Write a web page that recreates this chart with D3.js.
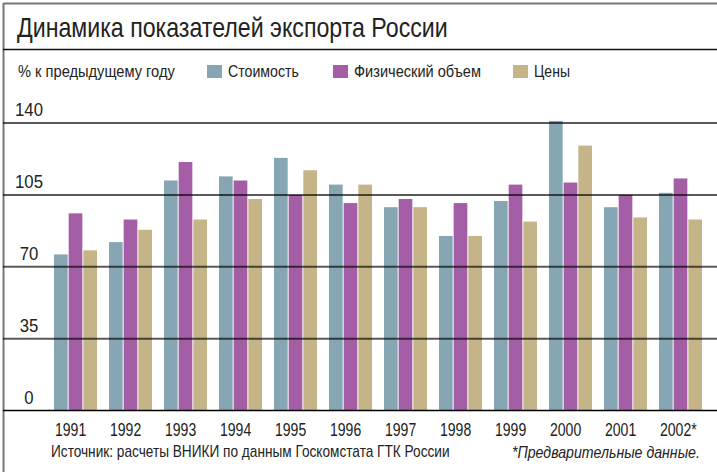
<!DOCTYPE html>
<html>
    <head>
        <title>Динамика показателей экспорта России</title>
        <meta charset="UTF-8">
        <script type="text/javascript" src="https://cdn.jsdelivr.net/npm/d3@7"></script>
        <style>
            body { margin: 0; background: #fff; }
            text { font-family: "Liberation Sans", Arial, sans-serif; fill: #222; }
        </style>
    </head>
    <body>
        <script type="text/javascript">
            var w = 717, h = 472;

            var years = ["1991", "1992", "1993", "1994", "1995", "1996", "1997", "1998", "1999", "2000", "2001", "2002"];
            var yearLabels = ["1991", "1992", "1993", "1994", "1995", "1996", "1997", "1998", "1999", "2000", "2001", "2002*"];
            var seriesNames = ["Стоимость", "Физический объем", "Цены"];
            var stoimost = [76, 82, 112, 114, 123, 110, 99, 85, 102, 141, 99, 106];
            var fizObem = [96, 93, 121, 112, 105, 101, 103, 101, 110, 111, 105, 113];
            var ceny = [78, 88, 93, 103, 117, 110, 99, 85, 92, 129, 94, 93];
            var yTicks = [0, 35, 70, 105, 140];
            var colors = ["#85a6b2", "#a45ea5", "#c4b488"];

            var rows = years.map(function(y, i) {
                return {year: y, label: yearLabels[i], values: [stoimost[i], fizObem[i], ceny[i]]};
            });

            var svg = d3.select("body").append("svg")
                    .attr("width", w)
                    .attr("height", h);

            // the original uses a condensed face, so squeeze the regular one
            // sideways: either to a given width or by a given ratio
            function narrow(sel, x, y, width, ratio) {
                sel.each(function(d, i) {
                    var len = this.getComputedTextLength();
                    var s = ratio || (typeof width === "function" ? width(d, i) : width) / len;
                    var px = typeof x === "function" ? x(d, i) : x;
                    var py = typeof y === "function" ? y(d, i) : y;
                    d3.select(this).attr("transform", "translate(" + px + "," + py + ") scale(" + s + ",1)");
                });
            }

            // frame
            svg.append("line").attr("x1", 3.5).attr("y1", 3.5).attr("x2", w).attr("y2", 3.5)
                    .style("stroke", "#777").style("stroke-width", 2);
            svg.append("line").attr("x1", 3.5).attr("y1", 3).attr("x2", 3.5).attr("y2", h)
                    .style("stroke", "#777").style("stroke-width", 2);
            svg.append("line").attr("x1", 3).attr("y1", 49.5).attr("x2", w).attr("y2", 49.5)
                    .style("stroke", "#111").style("stroke-width", 1.5);

            svg.append("text")
                    .style("font-size", "28px")
                    .text("Динамика показателей экспорта России")
                    .call(narrow, 17, 36.5, 431);

            // legend
            svg.append("text")
                    .style("font-size", "16px")
                    .text("% к предыдущему году")
                    .call(narrow, 18, 77, 157);

            var legendX = [207, 333, 513];
            var legendW = [71, 127, 36];
            var legend = svg.selectAll("g.legend")
                    .data(seriesNames)
                    .enter()
                    .append("g")
                    .attr("class", "legend")
                    .attr("transform", function(d, i) {
                        return "translate(" + legendX[i] + ",65)";
                    });
            legend.append("rect")
                    .attr("width", 15).attr("height", 13)
                    .style("fill", function(d, i) { return colors[i]; });
            legend.append("text")
                    .style("font-size", "16px")
                    .text(function(d) { return d; })
                    .call(narrow, 21, 12, function(d, i) { return legendW[i]; });

            var x0 = d3.scaleBand()
                    .domain(years)
                    .range([54, 703])
                    .paddingInner(0.2)
                    .paddingOuter(0);

            var x1 = d3.scaleBand()
                    .domain([0, 1, 2])
                    .range([0, x0.bandwidth()]);

            var y = d3.scaleLinear()
                    .domain([0, 140])
                    .range([410.5, 123]);

            var groups = svg.selectAll("g.year")
                    .data(rows)
                    .enter()
                    .append("g")
                    .attr("class", "year")
                    .attr("transform", function(d) {
                        return "translate(" + x0(d.year) + ",0)";
                    });

            groups.selectAll("rect")
                    .data(function(d) { return d.values; })
                    .enter()
                    .append("rect")
                    .attr("x", function(d, i) { return x1(i); })
                    .attr("y", function(d) { return y(d); })
                    .attr("width", x1.bandwidth() - 1)
                    .attr("height", function(d) { return y(0) - y(d); })
                    .style("fill", function(d, i) { return colors[i]; });

            // gridlines on top of bars
            svg.selectAll("line.grid")
                    .data(yTicks.filter(function(t) { return t > 0; }))
                    .enter()
                    .append("line")
                    .attr("class", "grid")
                    .attr("x1", 3).attr("x2", w)
                    .attr("y1", function(d) { return y(d); })
                    .attr("y2", function(d) { return y(d); })
                    .style("stroke", "#000")
                    .style("stroke-opacity", 0.65)
                    .style("stroke-width", 2);

            svg.append("line")
                    .attr("x1", 3).attr("x2", w)
                    .attr("y1", y(0)).attr("y2", y(0))
                    .style("stroke", "#000")
                    .style("stroke-width", 1.5);

            svg.selectAll("text.ytick")
                    .data(yTicks)
                    .enter()
                    .append("text")
                    .attr("class", "ytick")
                    .attr("text-anchor", "middle")
                    .style("font-size", "19px")
                    .text(function(d) { return d; })
                    .call(narrow, 29, function(d) { return y(d) - 7; }, null, 0.88);

            svg.selectAll("text.xlabel")
                    .data(rows)
                    .enter()
                    .append("text")
                    .attr("class", "xlabel")
                    .style("font-size", "18px")
                    .text(function(d) { return d.label; })
                    .call(narrow, function(d) { return x0(d.year) + 1; }, 436, null, 0.78);

            svg.append("text")
                    .style("font-size", "16px")
                    .text("Источник: расчеты ВНИКИ по данным Госкомстата ГТК России")
                    .call(narrow, 51, 457, 399);

            svg.append("text")
                    .style("font-size", "16px")
                    .style("font-style", "italic")
                    .text("*Предварительные данные.")
                    .call(narrow, 512, 458, 188);
        </script>
    </body>
</html>
